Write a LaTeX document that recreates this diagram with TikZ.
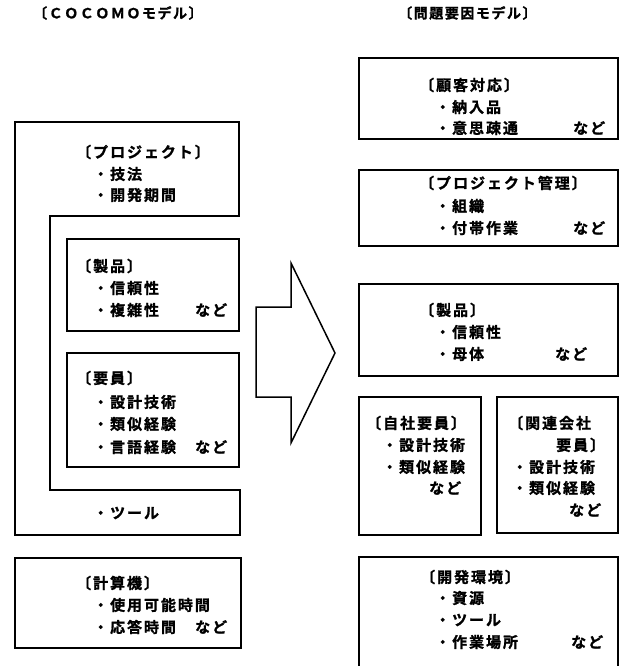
\documentclass[tikz,border=0pt]{standalone}
\usepackage{fontspec}
\setmainfont{Noto Sans CJK JP}
\newfontfamily\jpb{Noto Sans CJK JP Bold}[LetterSpace=13,FakeBold=1.2]
\newfontfamily\jpt{Noto Sans CJK JP Bold}[LetterSpace=11,FakeBold=1.2]
\tikzset{
  box/.style={draw, line width=1.5pt, line join=miter},
  txt/.style={anchor=west, inner sep=0pt, font=\jpb\fontsize{15}{15}\selectfont},
  ttl/.style={anchor=west, inner sep=0pt, font=\jpt\fontsize{14}{14}\selectfont},
}
\begin{document}
\begin{tikzpicture}[x=1pt,y=-1pt]
\useasboundingbox (0,0) rectangle (621,666);
% titles
\node[ttl] (t1) at (33,13) {〔ＣＯＣＯＭＯモデル〕};
\node[ttl] (t2) at (398,13) {〔問題要因モデル〕};

% ---------- left: COCOMO ----------
\draw[box] (15,122) -- (239,122) -- (239,216) -- (50,216) -- (50,490)
  -- (240,490) -- (240,535) -- (15,535) -- cycle;
\node[txt] (p0) at (76,152) {〔プロジェクト〕};
\node[txt] (p1) at (93,174) {・技法};
\node[txt] (p2) at (93,195) {・開発期間};
\node[txt] (p3) at (93,513) {・ツール};

\draw[box] (67,239) rectangle (239,331);
\node[txt] (s0) at (76,266) {〔製品〕};
\node[txt] (s1) at (93,288) {・信頼性};
\node[txt] (s2) at (93,310) {・複雑性};
\node[txt] (s3) at (195,310) {など};

\draw[box] (67,353) rectangle (239,467);
\node[txt] (k0) at (76,378) {〔要員〕};
\node[txt] (k1) at (93,402) {・設計技術};
\node[txt] (k2) at (93,424) {・類似経験};
\node[txt] (k3) at (93,447) {・言語経験};
\node[txt] (k4) at (195,447) {など};

\draw[box] (15,558) rectangle (241,648);
\node[txt] (c0) at (76,583) {〔計算機〕};
\node[txt] (c1) at (93,605) {・使用可能時間};
\node[txt] (c2) at (93,627) {・応答時間};
\node[txt] (c3) at (195,627) {など};

% ---------- arrow ----------
\draw[box] (256,307) -- (291,307) -- (291,263) -- (335,353) -- (291,443)
  -- (291,397) -- (256,397) -- cycle;

% ---------- right: problem factor model ----------
\draw[box] (359,58) rectangle (618,139);
\node[txt] (a0) at (419,85) {〔顧客対応〕};
\node[txt] (a1) at (435,107) {・納入品};
\node[txt] (a2) at (435,128) {・意思疎通};
\node[txt] (a3) at (573,128) {など};

\draw[box] (359,170) rectangle (618,246);
\node[txt] (b0) at (419,183) {〔プロジェクト管理〕};
\node[txt] (b1) at (435,206) {・組織};
\node[txt] (b2) at (435,228) {・付帯作業};
\node[txt] (b3) at (573,228) {など};

\draw[box] (359,284) rectangle (618,376);
\node[txt] (d0) at (419,310) {〔製品〕};
\node[txt] (d1) at (435,332) {・信頼性};
\node[txt] (d2) at (435,354) {・母体};
\node[txt] (d3) at (555,354) {など};

\draw[box] (359,397) rectangle (481,535);
\node[txt] (e0) at (366,423) {〔自社要員〕};
\node[txt] (e1) at (382,445) {・設計技術};
\node[txt] (e2) at (382,467) {・類似経験};
\node[txt] (e3) at (429,488) {など};

\draw[box] (497,397) rectangle (618,533);
\node[txt] (f0) at (508,423) {〔関連会社};
\node[txt] (f1) at (556,445) {要員〕};
\node[txt] (f2) at (512,467) {・設計技術};
\node[txt] (f3) at (512,488) {・類似経験};
\node[txt] (f4) at (569,510) {など};

\draw[box] (359,668) -- (359,557) -- (618,557) -- (618,668);
\node[txt] (g0) at (420,577) {〔開発環境〕};
\node[txt] (g1) at (435,598) {・資源};
\node[txt] (g2) at (435,620) {・ツール};
\node[txt] (g3) at (435,642) {・作業場所};
\node[txt] (g4) at (571,642) {など};
\end{tikzpicture}
\end{document}
